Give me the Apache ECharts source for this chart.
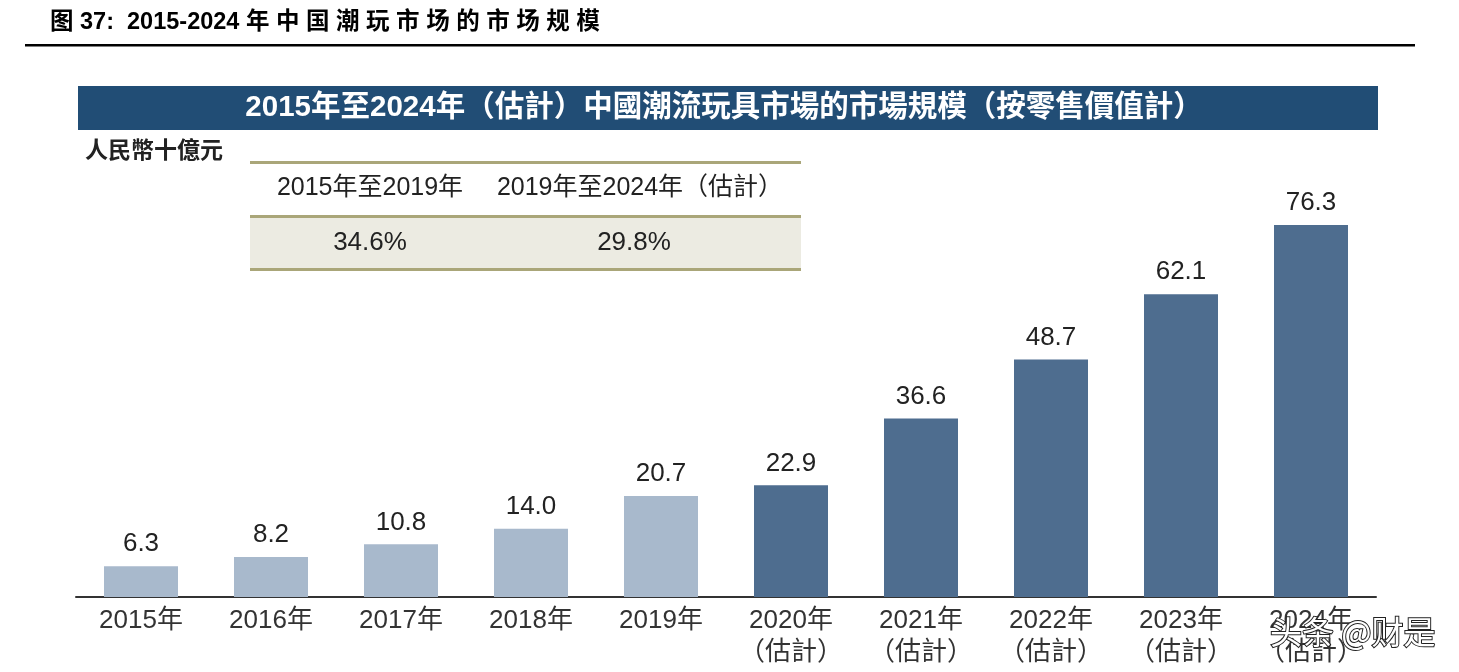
<!DOCTYPE html>
<html>
<head>
<meta charset="utf-8">
<script src="https://cdn.jsdelivr.net/npm/echarts@6/dist/echarts.min.js"></script>
<style>
  html, body { margin: 0; padding: 0; background: #fff; }
  #main { width: 1459px; height: 672px; }
</style>
</head>
<body>
<div id="main"></div>
<script>
// 数据
var years = ['2015年', '2016年', '2017年', '2018年', '2019年', '2020年', '2021年', '2022年', '2023年', '2024年'];
var estimated = [false, false, false, false, false, true, true, true, true, true];
var marketSize = [6.3, 8.2, 10.8, 14.0, 20.7, 22.9, 36.6, 48.7, 62.1, 76.3];
var cagrPeriods = ['2015年至2019年', '2019年至2024年（估計）'];
var cagrValues = ['34.6%', '29.8%'];

var FONT = '"Liberation Sans", "Noto Sans CJK TC", sans-serif';
var chart = echarts.init(document.getElementById('main'));

var cagrX = [370, 640];
var valueX = [370, 634];
var tableTexts = [];
cagrPeriods.forEach(function (p, i) {
    tableTexts.push({
        type: 'text', x: cagrX[i], y: 188,
        style: { text: p, font: '25px ' + FONT, fill: '#222', align: 'center', verticalAlign: 'middle' }
    });
    tableTexts.push({
        type: 'text', x: valueX[i], y: 243,
        style: { text: cagrValues[i], font: '26px ' + FONT, fill: '#222', align: 'center', verticalAlign: 'middle' }
    });
});

var option = {
    animation: false,
    backgroundColor: '#fff',
    grid: { left: 76, right: 83, top: 207, bottom: 75 },
    xAxis: {
        type: 'category',
        data: years,
        axisLine: { lineStyle: { color: '#333', width: 2 } },
        axisTick: { show: false },
        axisLabel: {
            interval: 0,
            margin: 8,
            fontFamily: FONT,
            fontSize: 26,
            color: '#333',
            lineHeight: 32,
            formatter: function (v, i) {
                return estimated[i] ? v + '\n（估計）' : v;
            }
        }
    },
    yAxis: {
        type: 'value',
        min: 0,
        max: 80,
        show: false
    },
    series: [{
        type: 'bar',
        barWidth: 74,
        data: marketSize.map(function (v, i) {
            return { value: v, itemStyle: { color: estimated[i] ? '#4e6d8f' : '#a8b9cc' } };
        }),
        label: {
            show: true,
            position: 'top',
            distance: 9,
            fontFamily: FONT,
            fontSize: 26,
            color: '#222',
            formatter: function (p) { return p.value.toFixed(1); }
        }
    }],
    graphic: [
        {
            type: 'text', left: 50, top: 11,
            style: { text: '图 37:  2015-2024 年 中 国 潮 玩 市 场 的 市 场 规 模', font: 'bold 23.5px ' + FONT, fill: '#000' }
        },
        { type: 'rect', shape: { x: 25, y: 44, width: 1390, height: 2.5 }, style: { fill: '#000' } },
        { type: 'rect', shape: { x: 78, y: 86, width: 1300, height: 44 }, style: { fill: '#214d75' } },
        {
            type: 'text', x: 724, y: 108,
            style: { text: '2015年至2024年（估計）中國潮流玩具市場的市場規模（按零售價值計）', font: 'bold 29.5px ' + FONT, fill: '#fff', align: 'center', verticalAlign: 'middle' }
        },
        {
            type: 'text', x: 85, y: 152,
            style: { text: '人民幣十億元', font: 'bold 23px ' + FONT, fill: '#222', verticalAlign: 'middle' }
        },
        { type: 'rect', shape: { x: 250, y: 217, width: 551, height: 53 }, style: { fill: '#ecebe2' } },
        { type: 'rect', shape: { x: 250, y: 161, width: 551, height: 3 }, style: { fill: '#aaa679' } },
        { type: 'rect', shape: { x: 250, y: 215, width: 551, height: 3 }, style: { fill: '#aaa679' } },
        { type: 'rect', shape: { x: 250, y: 268, width: 551, height: 3 }, style: { fill: '#aaa679' } }
    ].concat(tableTexts).concat([
        {
            type: 'text', x: 1270, y: 632, z: 100,
            style: { text: '头条 @财是', font: '32px "Noto Sans CJK SC", sans-serif', fill: '#fff', stroke: '#222', lineWidth: 2, verticalAlign: 'middle' }
        }
    ])
};
chart.setOption(option);
</script>
</body>
</html>
